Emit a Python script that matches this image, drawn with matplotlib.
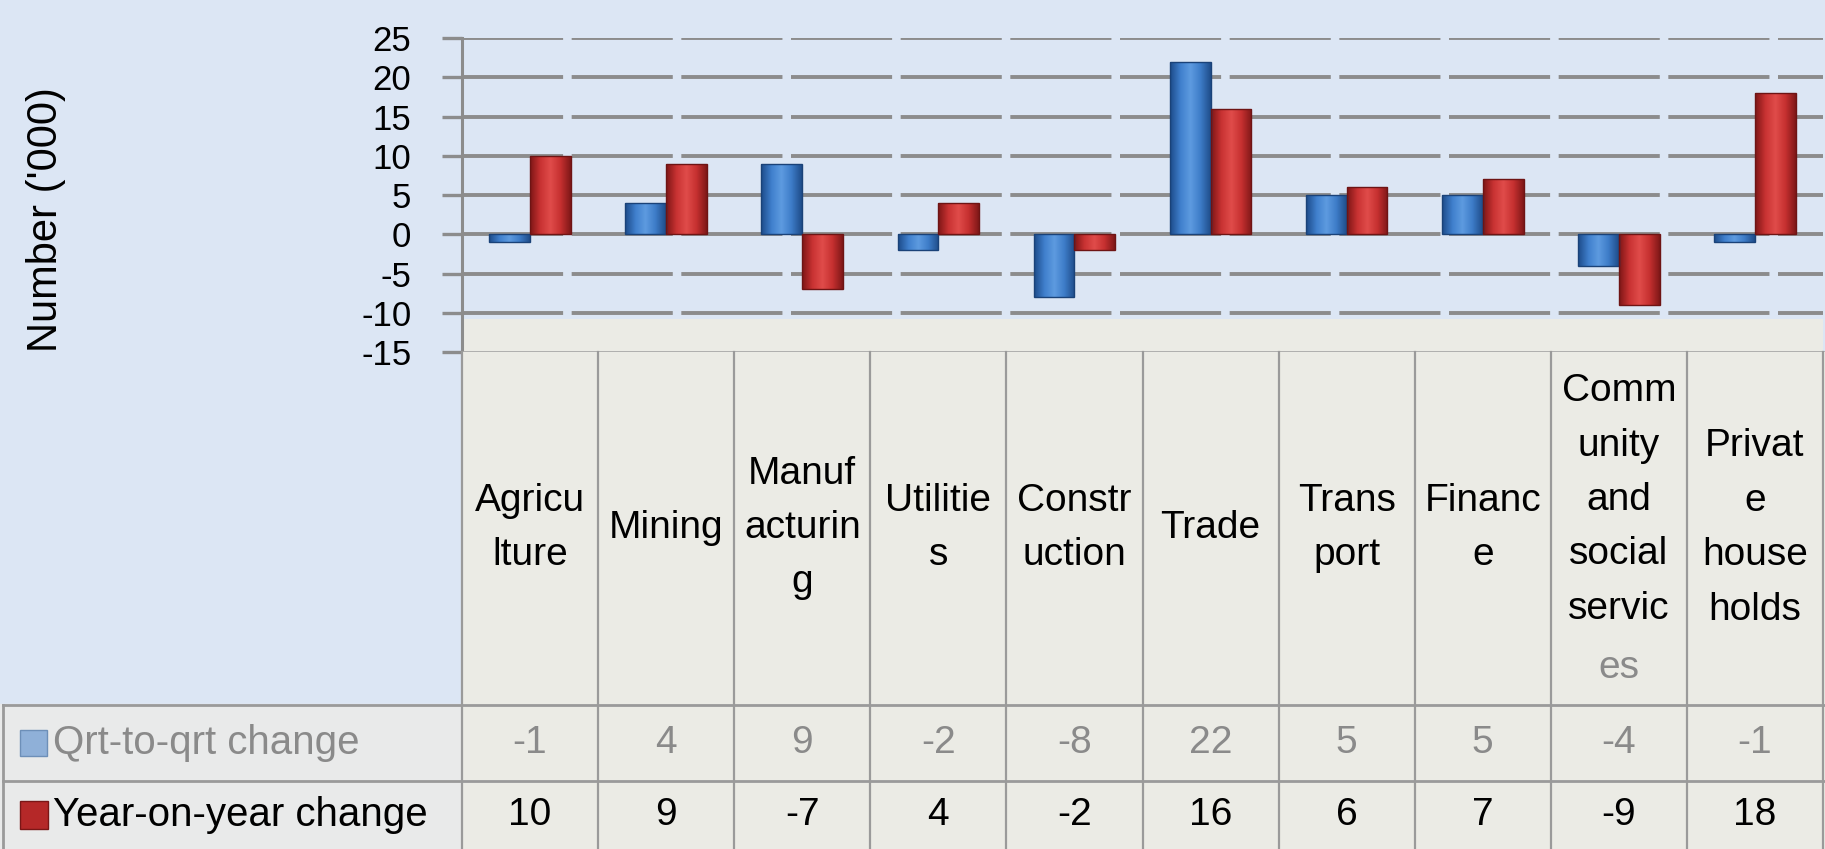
import numpy as np
import matplotlib
matplotlib.use("Agg")
import matplotlib.pyplot as plt
from matplotlib.colors import LinearSegmentedColormap
from matplotlib.patches import Rectangle
from matplotlib.transforms import blended_transform_factory

categories = ["Agricu\nlture", "Mining", "Manuf\nacturin\ng", "Utilitie\ns",
              "Constr\nuction", "Trade", "Trans\nport", "Financ\ne",
              "Comm\nunity\nand\nsocial\nservic", "Privat\ne\nhouse\nholds"]
overflow = {8: "es"}   # text that spills out of its cell (drawn in grey)
qrt_change = [-1, 4, 9, -2, -8, 22, 5, 5, -4, -1]
yoy_change = [10, 9, -7, 4, -2, 16, 6, 7, -9, 18]
series_names = ["Qrt-to-qrt change", "Year-on-year change"]
y_ticks = [-15, -10, -5, 0, 5, 10, 15, 20, 25]

W, H = 1825, 849
bg_blue = "#dce6f4"
beige = "#ebebe5"
line_col = "#9a9a9a"
grey_txt = "#8a8a8a"

plt.rcParams['font.family'] = ['Liberation Sans', 'DejaVu Sans']
plt.rcParams['axes.unicode_minus'] = False

fig = plt.figure(figsize=(W / 100, H / 100), dpi=100)
fig.patch.set_facecolor(bg_blue)

ax = fig.add_axes([462 / W, 1 - 352 / H, (1823 - 462) / W, (352 - 38) / H])
ax.set_facecolor(bg_blue)
ax.axhspan(-15, -10.8, color=beige, zorder=0, lw=0)

# grid
for v in y_ticks[1:]:
    ax.axhline(v, color="#8c8c8c", lw=2.8, dashes=(26, 2.2), zorder=1)

# bars with a cylinder-ish gradient
x = np.arange(len(categories))
bw = 0.3
blue_cm = LinearSegmentedColormap.from_list("b", ["#1d4c8a", "#3f7fcc", "#5e9be0", "#3d7cc8", "#1f4d8a"])
red_cm = LinearSegmentedColormap.from_list("r", ["#7e1616", "#c83232", "#e04c4a", "#c63030", "#801818"])
grad = np.linspace(0, 1, 64).reshape(1, -1)
for vals, off, cm, ec in [(qrt_change, -bw / 2, blue_cm, "#1a4278"),
                           (yoy_change, bw / 2, red_cm, "#6e1414")]:
    bars = ax.bar(x + off, vals, width=bw, color="none", edgecolor=ec, lw=1, zorder=3)
    for b in bars:
        x0, y0 = b.get_x(), b.get_y()
        w, h = b.get_width(), b.get_height()
        im = ax.imshow(grad, cmap=cm, aspect="auto", zorder=2,
                       extent=(x0, x0 + w, min(y0, y0 + h), max(y0, y0 + h)))
        im.set_clip_path(b)
ax.set_xlim(-0.5, 9.5)
ax.set_ylim(-15, 25)

# axes styling
ax.set_xticks([])
ax.set_yticks(y_ticks)
ax.tick_params(axis="y", direction="out", length=14.4, width=2.4, color="#8c8c8c",
               pad=22, labelsize=25)
for s in ["top", "right"]:
    ax.spines[s].set_visible(False)
ax.spines["left"].set_color("#8c8c8c")
ax.spines["left"].set_linewidth(2.2)
ax.spines["bottom"].set_color(line_col)
ax.spines["bottom"].set_linewidth(2)

fig.text(46 / W, 1 - 220 / H, "Number ('000)", rotation=90, ha="center", va="center",
         fontsize=30)

# data table below the chart
tf = fig.transFigure
bt = blended_transform_factory(ax.transData, tf)
fig.patches.append(Rectangle((462 / W, 0), 1, 1 - 352 / H, transform=tf, color=beige, zorder=0))
fig.patches.append(Rectangle((0, 0), 462 / W, 145 / H, transform=tf, color="#e9eaea", zorder=0))

for yy in [705, 781]:
    fig.add_artist(plt.Line2D([3 / W, 1], [1 - yy / H] * 2, transform=tf, color=line_col, lw=2))
fig.add_artist(plt.Line2D([3 / W] * 2, [0, 1 - 705 / H], transform=tf, color=line_col, lw=2))
for b in np.arange(-0.5, 10, 1):
    fig.add_artist(plt.Line2D([b, b], [0, 1 - 352 / H], transform=bt, color=line_col, lw=1.6))

head_mid = 528       # px from top, centre of header cells
step = 56            # px per text line in the header
ls = 1.66
y_q = 1 - 743 / H
y_y = 1 - 815 / H
for i, c in enumerate(categories):
    n_extra = 1 if i in overflow else 0
    yc = head_mid - n_extra * step / 2
    fig.text(i, 1 - yc / H, c, transform=bt, ha="center", va="center",
             multialignment="center", fontsize=28, linespacing=ls)
    if n_extra:
        n_lines = c.count("\n") + 1
        ye = head_mid + (n_lines - 1) / 2 * step + step / 2
        fig.text(i, 1 - ye / H, overflow[i], transform=bt, ha="center", va="center",
                 fontsize=28, color=grey_txt)

for i in range(len(categories)):
    fig.text(i, y_q, str(qrt_change[i]), transform=bt, ha="center", va="center",
             fontsize=28, color=grey_txt)
    fig.text(i, y_y, str(yoy_change[i]), transform=bt, ha="center", va="center",
             fontsize=28, color="black")

fig.patches.append(Rectangle((20 / W, y_q - 13 / H), 27 / W, 26 / H, transform=tf,
                             facecolor="#8fb0d8", edgecolor="#6d8fb8", lw=1))
fig.patches.append(Rectangle((20 / W, y_y - 14 / H), 28 / W, 28 / H, transform=tf,
                             facecolor="#b52828", edgecolor="#7a1616", lw=1))
fig.text(53 / W, y_q, series_names[0], ha="left", va="center", fontsize=29, color=grey_txt)
fig.text(53 / W, y_y, series_names[1], ha="left", va="center", fontsize=29, color="black")

fig.savefig("out.png", dpi=100, facecolor=fig.get_facecolor())
